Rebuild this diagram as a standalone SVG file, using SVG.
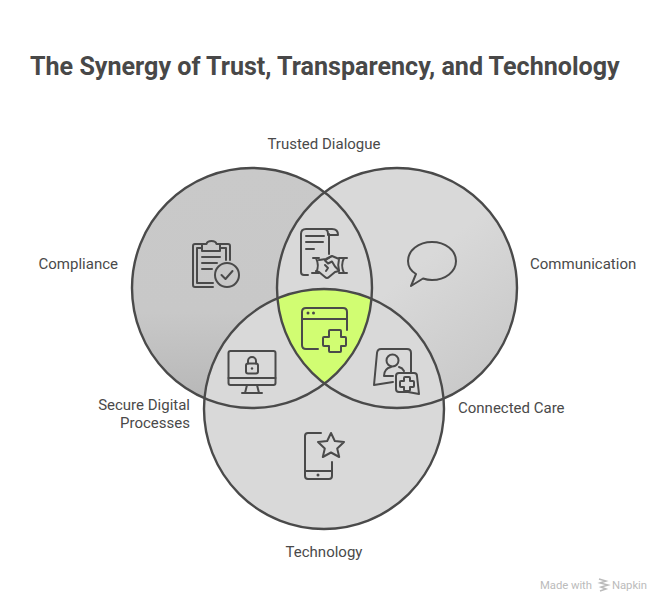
<svg xmlns="http://www.w3.org/2000/svg" width="672" height="612" viewBox="0 0 672 612">
<style>
.t{font-family:"Roboto","Liberation Sans",sans-serif;font-size:15px;fill:#4a4a4a}
.title{font-family:"Roboto","Liberation Sans",sans-serif;font-size:25.100px;font-weight:700;fill:#484848}
.c{fill:none;stroke:#4a4a4a;stroke-width:2.400}
.i{fill:none;stroke:#4a4a4a;stroke-width:2;stroke-linecap:round;stroke-linejoin:round}
.d{fill:#4a4a4a;stroke:none}
.w{font-family:"Roboto","Liberation Sans",sans-serif;font-size:11.300px;fill:#bbbbbb}
</style>
<defs>
<linearGradient id="gl" gradientUnits="userSpaceOnUse" x1="252" y1="168" x2="252" y2="408"><stop offset="0" stop-color="#c9c9c9"/><stop offset=".6" stop-color="#c8c8c8"/><stop offset="1" stop-color="#b6b6b6"/></linearGradient>
<linearGradient id="gr" gradientUnits="userSpaceOnUse" x1="400" y1="280" x2="500" y2="400"><stop offset="0" stop-color="#d9d9d9"/><stop offset="1" stop-color="#c6c6c6"/></linearGradient>
<clipPath id="cl"><circle cx="252" cy="288" r="120"/></clipPath>
<clipPath id="cr"><circle cx="397" cy="288" r="120"/></clipPath>
</defs>
<rect width="672" height="612" fill="#fff"/>
<text class="title" x="30" y="74.500">The Synergy of Trust, Transparency, and Technology</text>
<g id="venn">
<circle cx="252" cy="288" r="120" fill="url(#gl)"/>
<circle cx="397" cy="288" r="120" fill="url(#gr)"/>
<circle cx="324" cy="409" r="120" fill="#d9d9d9"/>
<g clip-path="url(#cl)"><circle cx="397" cy="288" r="120" fill="#d9d9d9"/></g>
<g clip-path="url(#cl)"><g clip-path="url(#cr)"><circle cx="324" cy="409" r="120" fill="#d1fd72"/></g></g>
</g>
<g id="connectors">
<circle class="c" cx="252" cy="288" r="120"/>
<circle class="c" cx="397" cy="288" r="120"/>
<circle class="c" cx="324" cy="409" r="120"/>
</g>
<g id="node-compliance">
<text class="t" x="118" y="269" text-anchor="end">Compliance</text>
<g class="i">
<path d="M202 244h-7q-2 0-2 2v39q0 2 2 2h18M220 244h8q2 0 2 2v14"/>
<path d="M202 248h-5v35h16M220 248h6v12"/>
<path d="M202 251v-7h4.500c1-4 9-4 10 0h3.500v7z"/>
<path d="M202 257h18M202 263h15M202 269h10"/>
<circle cx="227" cy="275" r="12"/>
<path d="M221.500 275l4 4 7-8"/>
</g>
</g>
<g id="node-dialogue">
<text class="t" x="324" y="149" text-anchor="middle">Trusted Dialogue</text>
<g class="i">
<path d="M308 275h-4q-3 0-3-3v-38q0-5 5-5h26q6 0 6 6h-10v-1q0-5-4-5"/>
<path d="M329 234v20"/>
<path d="M306 236h18M306 242h17M306 249h8"/>
<path d="M313 258h6M312 273h7M339 258h8M339 273h8M316 258c2.500 5 2.500 10 0 15M344 258c-2.500 5-2.500 10 0 15"/>
<path d="M319 260l7-1 6-3 7 3c-1 4-1 8 0 12l-4 1-6 5q-2 2-4 0l-6-5-3-1"/>
<path d="M331 256.500l-6 4 3 3 4-2 3 5 4 4M325 265l3 3-2 3"/>
</g>
</g>
<g id="node-communication">
<text class="t" x="530" y="269">Communication</text>
<path class="i" d="M416 274c-5-3-8-8-8-13 0-10.500 10.500-19 24-19s24 8.500 24 19-10.500 19-24 19c-3 0-6-.5-9-1.500l-12 7.500z"/>
</g>
<g id="node-center">
<g class="i">
<path d="M347 330v-18q0-4-4-4h-37q-4 0-4 4v33q0 4 4 4h12M302 319h45"/>
<path d="M329 337v-6q0-1 1-1h10q1 0 1 1v6h4q1 0 1 1v7q0 1-1 1h-4v5q0 1-1 1h-10q-1 0-1-1v-5h-5q-1 0-1-1v-7q0-1 1-1z"/>
</g>
<circle class="d" cx="308" cy="313" r="1.500"/>
<circle class="d" cx="313.500" cy="313" r="1.500"/>
</g>
<g id="node-secure">
<text class="t" x="190" y="410" text-anchor="end">Secure Digital</text>
<text class="t" x="190" y="427.500" text-anchor="end">Processes</text>
<g class="i">
<rect x="228.500" y="351" width="47" height="34" rx="2"/>
<path d="M228.500 378h47M247 385l-2 8M257 385l2 8M242 393h20"/>
<rect x="246" y="363.500" width="12" height="10" rx="2"/>
<path d="M248 363.500v-2.500a4 4 0 0 1 8 0v2.500"/>
</g>
<circle class="d" cx="252" cy="368.500" r="1.200"/>
</g>
<g id="node-care">
<text class="t" x="458" y="413">Connected Care</text>
<g class="i">
<path d="M374 385l3-32q.5-4 4-4h26q4 0 4 4v19M374 385l19-3"/>
<circle cx="392.500" cy="360.500" r="6"/>
<path d="M384 376c0-5 3-8 7-9M399 367c2 .5 4 2 5 4M385 376h8"/>
<path d="M396 376q0-3 3-3h15q3 0 3 3l2 18-11-2h-9q-3 0-3-3z"/>
<path d="M404 378q0-1 1-1h4q1 0 1 1v3h3q1 0 1 1v4q0 1-1 1h-3v3q0 1-1 1h-4q-1 0-1-1v-3h-3q-1 0-1-1v-4q0-1 1-1h3z"/>
</g>
</g>
<g id="node-technology">
<text class="t" x="324" y="557" text-anchor="middle">Technology</text>
<g class="i">
<path d="M321 433h-13q-3 0-3 3v40q0 3 3 3h21q3 0 3-3v-14M305 471h27"/>
<path d="M331 433l3.800 8 9.200 1-6.800 6.500 2 8.500-8.200-4.500-8.200 4.500 2-8.500-6.800-6.500 9.200-1z"/>
</g>
<circle class="d" cx="318" cy="475" r="1.500"/>
</g>
<g id="watermark">
<text class="w" x="540" y="588.500" textLength="52">Made with</text>
<path d="M599 579l7 2-6 2 8 2-7 2 5 2-6 2" fill="none" stroke="#bbbbbb" stroke-width="1.500"/>
<text class="w" x="612" y="588.500" textLength="35">Napkin</text>
</g>
</svg>
